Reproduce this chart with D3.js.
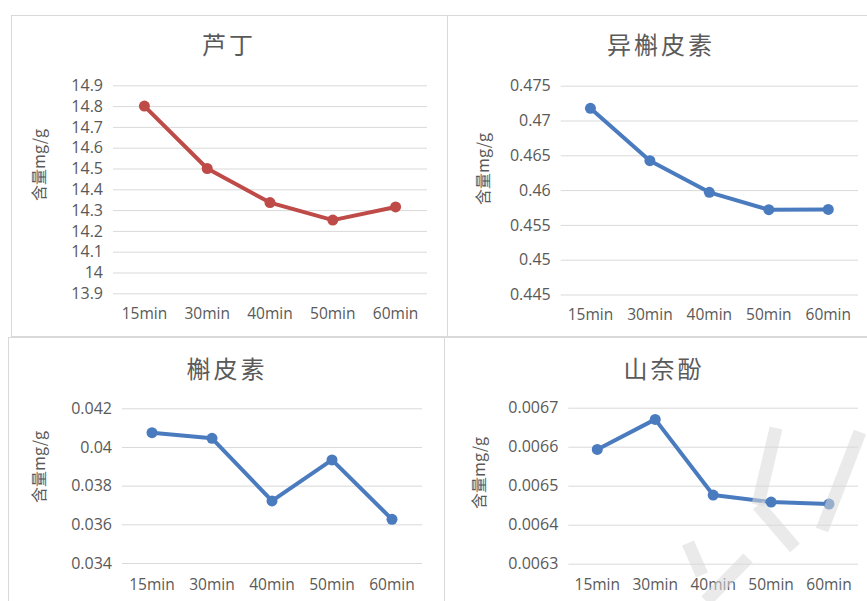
<!DOCTYPE html>
<html>
<head>
<meta charset="utf-8">
<script src="https://cdn.jsdelivr.net/npm/d3@7"></script>
<style>
  html, body { margin: 0; padding: 0; background: #fff; }
  svg { display: block; }
  .tick text { font-family: "Open Sans", "Noto Sans CJK SC", sans-serif; fill: #595959; }
</style>
</head>
<body>
<svg id="chart" width="867" height="601"></svg>
<script>
// Sampling times shared by all four charts
const times = ["15min", "30min", "40min", "50min", "60min"];

// 芦丁 (rutin)
const rutinValues = [14.80, 14.50, 14.336, 14.252, 14.315];
const rutinTicks = [14.9, 14.8, 14.7, 14.6, 14.5, 14.4, 14.3, 14.2, 14.1, 14.0, 13.9];
const rutinTickLabels = ["14.9", "14.8", "14.7", "14.6", "14.5", "14.4", "14.3", "14.2", "14.1", "14", "13.9"];

// 异槲皮素 (isoquercitrin)
const isoValues = [0.47175, 0.46422, 0.45968, 0.45718, 0.45723];
const isoTicks = [0.475, 0.47, 0.465, 0.46, 0.455, 0.45, 0.445];
const isoTickLabels = ["0.475", "0.47", "0.465", "0.46", "0.455", "0.45", "0.445"];

// 槲皮素 (quercetin)
const querValues = [0.04074, 0.04045, 0.03721, 0.03933, 0.03626];
const querTicks = [0.042, 0.040, 0.038, 0.036, 0.034];
const querTickLabels = ["0.042", "0.04", "0.038", "0.036", "0.034"];

// 山奈酚 (kaempferol)
const kaemValues = [0.006593, 0.00667, 0.006476, 0.006458, 0.006453];
const kaemTicks = [0.0067, 0.0066, 0.0065, 0.0064, 0.0063];
const kaemTickLabels = ["0.0067", "0.0066", "0.0065", "0.0064", "0.0063"];

const yTitle = "含量mg/g";
const RED = "#be4b48";
const BLUE = "#4a7bbf";

const svg = d3.select("#chart");

function drawPanel(p) {
  const g = svg.append("g");

  // chart frame
  g.append("rect")
    .attr("x", p.box[0] + 0.5).attr("y", p.box[1] + 0.5)
    .attr("width", p.box[2] - p.box[0]).attr("height", p.box[3] - p.box[1])
    .attr("fill", "#fff").attr("stroke", "#d9d9d9").attr("stroke-width", 1);

  // title
  g.append("text")
    .attr("x", p.titlePos[0]).attr("y", p.titlePos[1])
    .attr("text-anchor", "middle").attr("dominant-baseline", "central")
    .attr("font-family", "'Noto Sans CJK SC', sans-serif")
    .attr("font-size", 24).attr("letter-spacing", 3)
    .attr("fill", "#5a5a5a")
    .text(p.title);

  const x = d3.scaleBand().domain(times).range([p.left, p.right]);
  const y = d3.scaleLinear().domain([p.ticks[p.ticks.length - 1], p.ticks[0]]).range([p.bottom, p.top]);

  // value axis with gridlines
  const yAxis = d3.axisLeft(y)
    .tickValues(p.ticks)
    .tickFormat((d, i) => p.tickLabels[i])
    .tickSize(-(p.right - p.left))
    .tickPadding(10);
  const ya = g.append("g").attr("transform", `translate(${p.left},0)`).call(yAxis);
  ya.select(".domain").remove();
  ya.selectAll(".tick line").attr("stroke", "#d9d9d9");
  ya.selectAll(".tick text").attr("font-size", 16);

  // category axis labels
  const xAxis = d3.axisBottom(x).tickSize(0).tickPadding(0);
  const xa = g.append("g").attr("transform", `translate(0,${p.xLabelY})`).call(xAxis);
  xa.select(".domain").remove();
  xa.selectAll(".tick text").attr("font-size", 15.5).attr("dy", "0.35em");

  // axis title
  g.append("text")
    .attr("transform", `translate(${p.yTitlePos[0]},${p.yTitlePos[1]}) rotate(-90)`)
    .attr("text-anchor", "middle").attr("dominant-baseline", "central")
    .attr("font-family", "'Noto Sans CJK SC', sans-serif")
    .attr("font-size", 16).attr("fill", "#595959")
    .text(yTitle);

  const cx = d => x(d.t) + x.bandwidth() / 2;
  const data = times.map((t, i) => ({ t, v: p.values[i] }));

  g.append("path")
    .datum(data)
    .attr("fill", "none").attr("stroke", p.color)
    .attr("stroke-width", 4).attr("stroke-linejoin", "round")
    .attr("d", d3.line().x(cx).y(d => y(d.v)));

  g.selectAll("circle.pt").data(data).join("circle")
    .attr("class", "pt")
    .attr("cx", cx).attr("cy", d => y(d.v))
    .attr("r", 5.5).attr("fill", p.color);
}

const panels = [
  { title: "芦丁", values: rutinValues, ticks: rutinTicks, tickLabels: rutinTickLabels, color: RED,
    box: [11, 15, 448, 336], titlePos: [229, 43], left: 113, right: 427, top: 85.3, bottom: 293.3,
    xLabelY: 314, yTitlePos: [38, 165] },
  { title: "异槲皮素", values: isoValues, ticks: isoTicks, tickLabels: isoTickLabels, color: BLUE,
    box: [447, 15, 880, 336], titlePos: [661, 43], left: 560.7, right: 858, top: 85.7, bottom: 294.5,
    xLabelY: 315, yTitlePos: [482, 169] },
  { title: "槲皮素", values: querValues, ticks: querTicks, tickLabels: querTickLabels, color: BLUE,
    box: [8, 337, 444, 620], titlePos: [227, 367], left: 122, right: 422, top: 408.3, bottom: 563,
    xLabelY: 585, yTitlePos: [38, 467] },
  { title: "山奈酚", values: kaemValues, ticks: kaemTicks, tickLabels: kaemTickLabels, color: BLUE,
    box: [444, 337, 880, 620], titlePos: [664, 367], left: 568.3, right: 858, top: 407.7, bottom: 563.7,
    xLabelY: 585, yTitlePos: [478, 473] }
];

panels.forEach(drawPanel);

// faint grey brush-stroke mark over the lower-right corner
const markStrokes = [
  [[776, 428], [758, 505]],
  [[758, 505], [795, 548]],
  [[860, 432], [822, 530]],
  [[748, 558], [706, 601]],
  [[688, 543], [702, 575]]
];
svg.append("g")
  .attr("fill", "none").attr("stroke", "#d8d8d8").attr("stroke-opacity", 0.55)
  .attr("stroke-width", 13).attr("stroke-linecap", "butt")
  .selectAll("path").data(markStrokes).join("path")
  .attr("d", d => d3.line()(d));
</script>
</body>
</html>
